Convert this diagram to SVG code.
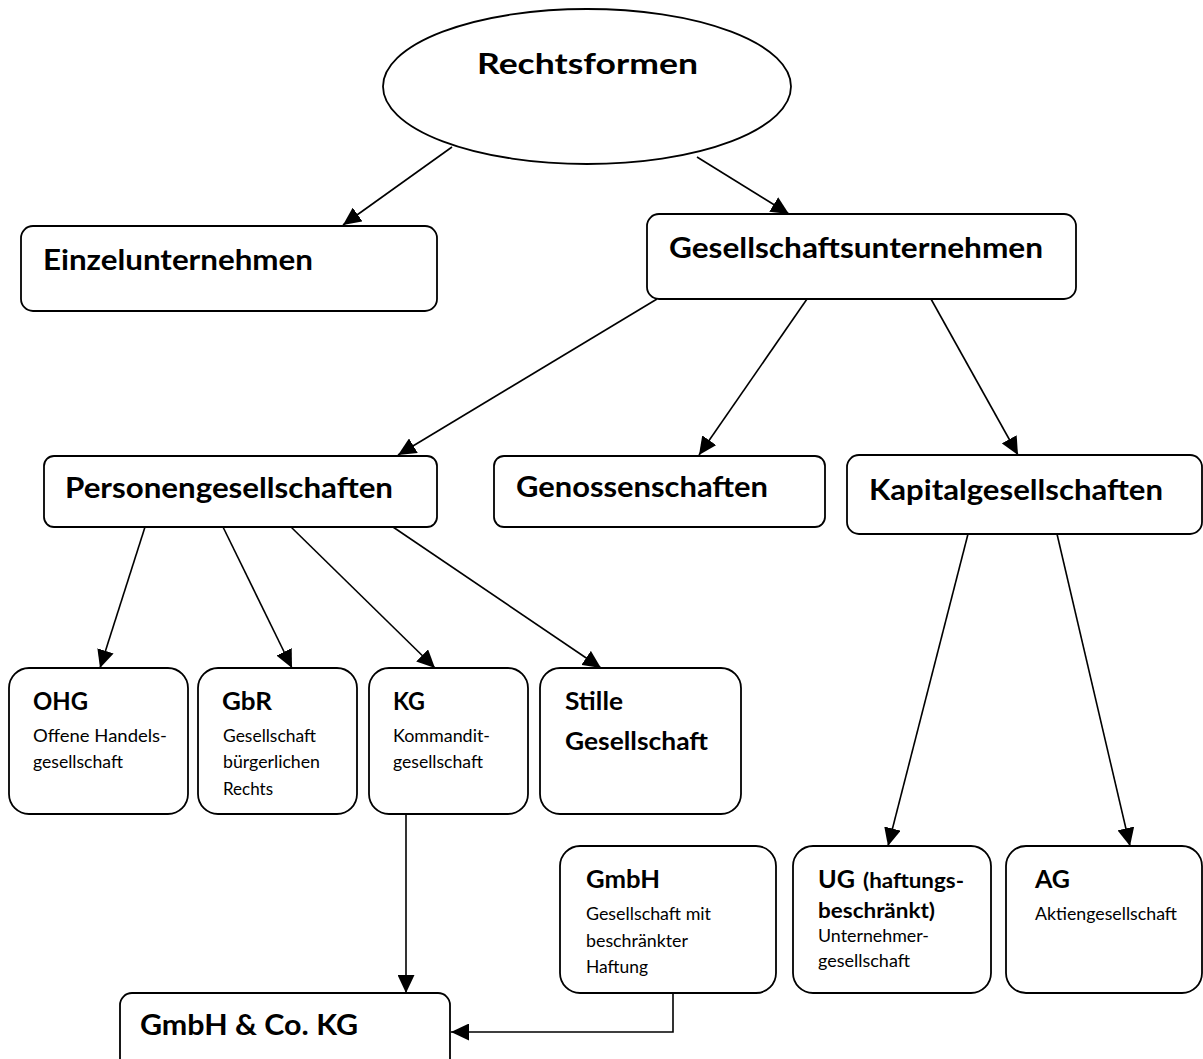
<svg xmlns="http://www.w3.org/2000/svg" width="1203" height="1059" viewBox="0 0 1203 1059">
<style>
.box{fill:#fff;stroke:#000;stroke-width:1.8}
.h1{font-family:Lato,"Liberation Sans",sans-serif;font-weight:bold;font-size:29px;fill:#000}
.h2{font-family:Lato,"Liberation Sans",sans-serif;font-weight:bold;font-size:24px;fill:#000}
.h3{font-family:Lato,"Liberation Sans",sans-serif;font-weight:bold;font-size:20px;fill:#000}
.t{font-family:Lato,"Liberation Sans",sans-serif;font-size:17px;fill:#000}
.c{fill:none;stroke:#000;stroke-width:1.6}
</style>
<defs>
<marker id="ah" markerUnits="userSpaceOnUse" markerWidth="18" markerHeight="17" refX="18" refY="8.5" orient="auto">
<path d="M0,0 L18,8.5 L0,17 z" fill="#000"/>
</marker>
</defs>
<rect width="1203" height="1059" fill="#fff"/>
<g id="connectors">
<line class="c" x1="452" y1="147" x2="343" y2="225" marker-end="url(#ah)"/>
<line class="c" x1="697" y1="157" x2="789" y2="214" marker-end="url(#ah)"/>
<line class="c" x1="657" y1="299" x2="398" y2="455" marker-end="url(#ah)"/>
<line class="c" x1="807" y1="299" x2="699" y2="455" marker-end="url(#ah)"/>
<line class="c" x1="931" y1="299" x2="1018" y2="455" marker-end="url(#ah)"/>
<line class="c" x1="145" y1="527" x2="100" y2="668" marker-end="url(#ah)"/>
<line class="c" x1="223" y1="527" x2="292" y2="668" marker-end="url(#ah)"/>
<line class="c" x1="291" y1="527" x2="435" y2="668" marker-end="url(#ah)"/>
<line class="c" x1="393" y1="527" x2="601" y2="668" marker-end="url(#ah)"/>
<line class="c" x1="968" y1="534" x2="888" y2="846" marker-end="url(#ah)"/>
<line class="c" x1="1057" y1="534" x2="1130" y2="846" marker-end="url(#ah)"/>
<line class="c" x1="406" y1="813" x2="406" y2="993" marker-end="url(#ah)"/>
<polyline class="c" points="673,993 673,1032 451,1032" marker-end="url(#ah)"/>
</g>
<g id="rechtsformen">
<ellipse class="box" cx="587" cy="86.5" rx="204" ry="77.5"/>
<text class="h1" x="477" y="74" textLength="221" lengthAdjust="spacingAndGlyphs">Rechtsformen</text>
</g>
<g id="einzelunternehmen">
<rect class="box" x="21" y="226" width="416" height="85" rx="12"/>
<text class="h1" x="43" y="270" textLength="270" lengthAdjust="spacingAndGlyphs">Einzelunternehmen</text>
</g>
<g id="gesellschaftsunternehmen">
<rect class="box" x="647" y="214" width="429" height="85" rx="12"/>
<text class="h1" x="669" y="258" textLength="374" lengthAdjust="spacingAndGlyphs">Gesellschaftsunternehmen</text>
</g>
<g id="personengesellschaften">
<rect class="box" x="44" y="456" width="393" height="71" rx="10"/>
<text class="h1" x="65" y="498" textLength="328" lengthAdjust="spacingAndGlyphs">Personengesellschaften</text>
</g>
<g id="genossenschaften">
<rect class="box" x="494" y="456" width="331" height="71" rx="10"/>
<text class="h1" x="516" y="497" textLength="252" lengthAdjust="spacingAndGlyphs">Genossenschaften</text>
</g>
<g id="kapitalgesellschaften">
<rect class="box" x="847" y="455" width="355" height="79" rx="12"/>
<text class="h1" x="869" y="500" textLength="294" lengthAdjust="spacingAndGlyphs">Kapitalgesellschaften</text>
</g>
<g id="ohg">
<rect class="box" x="9" y="668" width="179" height="146" rx="20"/>
<text class="h2" x="33" y="710" textLength="55" lengthAdjust="spacingAndGlyphs">OHG</text>
<text class="t" x="33" y="742" textLength="134" lengthAdjust="spacingAndGlyphs">Offene Handels-</text>
<text class="t" x="33" y="768" textLength="90" lengthAdjust="spacingAndGlyphs">gesellschaft</text>
</g>
<g id="gbr">
<rect class="box" x="198" y="668" width="159" height="146" rx="20"/>
<text class="h2" x="222" y="710" textLength="50" lengthAdjust="spacingAndGlyphs">GbR</text>
<text class="t" x="223" y="742" textLength="93" lengthAdjust="spacingAndGlyphs">Gesellschaft</text>
<text class="t" x="223" y="768" textLength="97" lengthAdjust="spacingAndGlyphs">bürgerlichen</text>
<text class="t" x="223" y="795" textLength="50" lengthAdjust="spacingAndGlyphs">Rechts</text>
</g>
<g id="kg">
<rect class="box" x="369" y="668" width="159" height="146" rx="20"/>
<text class="h2" x="393" y="710" textLength="32" lengthAdjust="spacingAndGlyphs">KG</text>
<text class="t" x="393" y="742" textLength="97" lengthAdjust="spacingAndGlyphs">Kommandit-</text>
<text class="t" x="393" y="768" textLength="90" lengthAdjust="spacingAndGlyphs">gesellschaft</text>
</g>
<g id="stille">
<rect class="box" x="540" y="668" width="201" height="146" rx="20"/>
<text class="h2" x="565" y="710" textLength="58" lengthAdjust="spacingAndGlyphs">Stille</text>
<text class="h2" x="565" y="750" textLength="143" lengthAdjust="spacingAndGlyphs">Gesellschaft</text>
</g>
<g id="gmbh">
<rect class="box" x="560" y="846" width="216" height="147" rx="20"/>
<text class="h2" x="586" y="888" textLength="74" lengthAdjust="spacingAndGlyphs">GmbH</text>
<text class="t" x="586" y="920" textLength="125" lengthAdjust="spacingAndGlyphs">Gesellschaft mit</text>
<text class="t" x="586" y="947" textLength="102" lengthAdjust="spacingAndGlyphs">beschränkter</text>
<text class="t" x="586" y="973" textLength="62" lengthAdjust="spacingAndGlyphs">Haftung</text>
</g>
<g id="ug">
<rect class="box" x="793" y="846" width="198" height="147" rx="20"/>
<text class="h2" x="818" y="888" textLength="37" lengthAdjust="spacingAndGlyphs">UG</text>
<text class="h3" x="863" y="888" textLength="101" lengthAdjust="spacingAndGlyphs">(haftungs-</text>
<text class="h3" x="818" y="918" textLength="117" lengthAdjust="spacingAndGlyphs">beschränkt)</text>
<text class="t" x="818" y="942" textLength="111" lengthAdjust="spacingAndGlyphs">Unternehmer-</text>
<text class="t" x="818" y="967" textLength="92" lengthAdjust="spacingAndGlyphs">gesellschaft</text>
</g>
<g id="ag">
<rect class="box" x="1006" y="846" width="196" height="147" rx="20"/>
<text class="h2" x="1035" y="888" textLength="35" lengthAdjust="spacingAndGlyphs">AG</text>
<text class="t" x="1035" y="920" textLength="142" lengthAdjust="spacingAndGlyphs">Aktiengesellschaft</text>
</g>
<g id="gmbh-co-kg">
<rect class="box" x="120" y="993" width="330" height="90" rx="12"/>
<text class="h1" x="140" y="1035" textLength="218" lengthAdjust="spacingAndGlyphs">GmbH &amp; Co. KG</text>
</g>
</svg>
